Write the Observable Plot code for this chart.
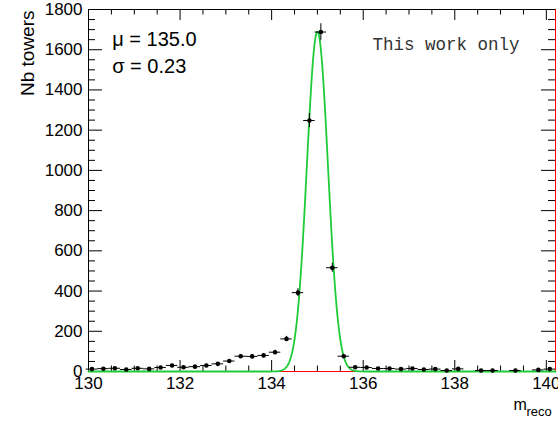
<!DOCTYPE html>
<html><head><meta charset="utf-8">
<script src="https://cdn.jsdelivr.net/npm/d3@7"></script>
<script src="https://cdn.jsdelivr.net/npm/@observablehq/plot@0.6"></script>
<style>body{margin:0;background:#fff} #chart svg{display:block}</style>
</head><body><div id="chart"></div>
<script>
// Histogram definition (bins of 0.25 starting at 129.95)
const binStart = 129.95;
const binWidth = 0.25;
// Counts per bin (0 = empty bin, not drawn)
const counts = [12,14,16,10,16,13,20,30,21,24,30,38,52,76,75,80,96,162,392,1248,1688,516,76,21,20,15,15,12,15,10,12,5,13,0,5,5,0,5,0,8,12];
// Gaussian fit parameters (shown on chart)
const fitMu = 135.0;
const fitSigma = 0.23;
const fitAmp = 1690;
// Axis ticks
const xMajor = [130,132,134,136,138,140];
const xMinor = [130.5,131,131.5,132.5,133,133.5,134.5,135,135.5,136.5,137,137.5,138.5,139,139.5];
const yMajor = [0,200,400,600,800,1000,1200,1400,1600,1800];
const yMinor = [50,100,150,250,300,350,450,500,550,650,700,750,850,900,950,1050,1100,1150,1250,1300,1350,1450,1500,1550,1650,1700,1750];
const statLines = ["μ = 135.0", "σ = 0.23"];
const yTitle = "Nb towers";
const xTitleMain = "m";
const xTitleSub = "reco";
const note = "This work only";

const W = 558, H = 425, mL = 88, mR = 3, mT = 9, mB = 54;
const fW = W - mL - mR, fH = H - mT - mB;

const points = counts.map((n, i) => ({
  x: binStart + binWidth * (i + 0.5),
  lo: binStart + binWidth * i,
  hi: binStart + binWidth * (i + 1),
  n, e: Math.sqrt(n)
})).filter(d => d.n > 0);

// Fit function curve evaluated from its stated parameters
const fit = d3.range(130, 140.2001, 0.01).map(x => ({x, y: fitAmp * Math.exp(-0.5 * ((x - fitMu) / fitSigma) ** 2)}));

const chart = Plot.plot({
  width: W, height: H,
  marginLeft: mL, marginRight: mR, marginTop: mT, marginBottom: mB,
  x: {domain: [130, 140.2]},
  y: {domain: [0, 1800]},
  style: {fontFamily: "'Liberation Sans', Arial, sans-serif", background: "white", color: "black"},
  marks: [
    Plot.frame({stroke: "black"}),
    Plot.axisX({ticks: xMajor, tickSize: 0, tickPadding: 5, fontSize: 17, label: null, tickFormat: d => String(d)}),
    Plot.axisY({ticks: yMajor, tickSize: 0, tickPadding: 6, fontSize: 17, label: null, tickFormat: d => String(d)}),
    // ticks inside the frame (ROOT style)
    Plot.ruleX(xMajor, {x: d => d, insetTop: fH - 11, stroke: "black"}),
    Plot.ruleX(xMajor, {x: d => d, insetBottom: fH - 11, stroke: "black"}),
    Plot.ruleX(xMinor, {x: d => d, insetTop: fH - 5.5, stroke: "black"}),
    Plot.ruleX(xMinor, {x: d => d, insetBottom: fH - 5.5, stroke: "black"}),
    Plot.ruleY(yMajor, {y: d => d, insetRight: fW - 14, stroke: "black"}),
    Plot.ruleY(yMajor, {y: d => d, insetLeft: fW - 14, stroke: "black"}),
    Plot.ruleY(yMinor, {y: d => d, insetRight: fW - 7, stroke: "black"}),
    Plot.ruleY(yMinor, {y: d => d, insetLeft: fW - 7, stroke: "black"}),
    // red default function outline
    Plot.ruleY([0], {stroke: "#ff0000"}),
    Plot.ruleX([140.2], {stroke: "#ff0000"}),
    // green gaussian fit
    Plot.line(fit, {x: "x", y: "y", stroke: "#1ecc38", strokeWidth: 1.8}),
    // error bars and points
    Plot.ruleY(points, {y: "n", x1: "lo", x2: "hi", stroke: "black", strokeWidth: 1}),
    Plot.ruleX(points, {x: "x", y1: d => d.n - d.e, y2: d => d.n + d.e, stroke: "black", strokeWidth: 1}),
    Plot.dot(points, {x: "x", y: "n", r: 2.3, fill: "black", stroke: null}),
    // texts
    Plot.text([statLines[0]], {text: d => d, frameAnchor: "top-left", dx: 23.7, dy: 22.1, textAnchor: "start", fontSize: 20, fill: "black"}),
    Plot.text([statLines[1]], {text: d => d, frameAnchor: "top-left", dx: 23.7, dy: 49.6, textAnchor: "start", fontSize: 20, fill: "black"}),
    Plot.text([note], {text: d => d, frameAnchor: "top-left", dx: 284, dy: 28.4, textAnchor: "start", fontSize: 17.5, fontFamily: "'Liberation Mono', 'Courier New', monospace", fill: "#333"}),
    Plot.text([yTitle], {text: d => d, frameAnchor: "top-left", dx: -68.5, dy: 1, rotate: -90, textAnchor: "end", fontSize: 19, fill: "black"}),
    Plot.text([xTitleMain], {text: d => d, frameAnchor: "bottom-right", dx: -42, dy: 38.9, textAnchor: "start", fontSize: 16, fill: "black"}),
    Plot.text([xTitleSub], {text: d => d, frameAnchor: "bottom-right", dx: -29, dy: 44.8, textAnchor: "start", fontSize: 13, fill: "black"})
  ]
});
document.getElementById("chart").appendChild(chart);
</script>
</body></html>
